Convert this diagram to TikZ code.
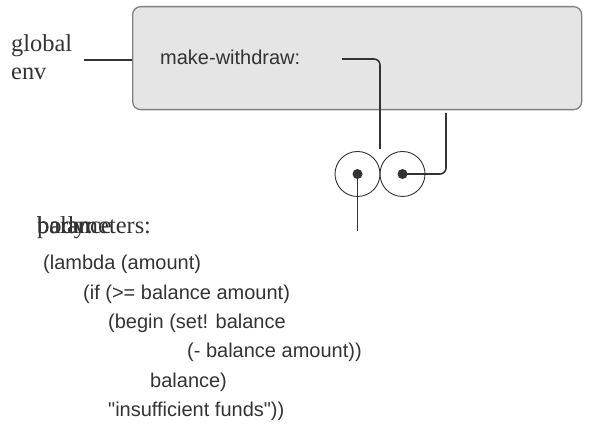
\documentclass[tikz,border=0pt]{standalone}
\usepackage{fontspec}
\setmainfont{Liberation Serif}
\setsansfont{Liberation Sans}[Ligatures=TeXOff]
\begin{document}
\begin{tikzpicture}[x=1pt,y=-1pt]
\definecolor{framegray}{gray}{0.5}
\definecolor{boxfill}{gray}{0.9}
\definecolor{inkgray}{gray}{0.2}
\tikzset{
  code/.style = {anchor = base west, inner sep = 0, text = inkgray, font = \sffamily\fontsize{20}{22}\selectfont},
  envlabel/.style = {anchor = base west, inner sep = 0, text = inkgray, font = \rmfamily\fontsize{24.4}{26}\selectfont},
  pointer/.style = {draw = inkgray, line width = 1.6pt, rounded corners = 6},
  cell/.style = {circle, draw = inkgray, line width = 0.9pt, minimum size = 45, inner sep = 0},
  dot/.style = {circle, fill = inkgray, inner sep = 0, minimum size = 10}
}
\useasboundingbox (0,0) rectangle (599,427);
\node [draw = framegray, fill = boxfill, line width = 1.3pt, rounded corners = 8, minimum width = 449, minimum height = 103, inner sep = 0, anchor = north west] (frame) at (132,6) {};
\node [envlabel] (global) at (11,52) {global};
\node [envlabel] (env) at (11,80) {env};
\node [code] (name) at (160,65) {make-withdraw:};
\node [cell] (left) at (357.5,174) {};
\node [cell] (right) at (402.5,174) {};
\node [dot] (leftdot) at (left.center) {};
\node [dot] (rightdot) at (right.center) {};
\coordinate (globalend) at (84,60);
\coordinate (bindstart) at (342,59);
\coordinate (bindend) at (380,149);
\coordinate (envend) at (446,113);
\coordinate (codeend) at (357.5,231);
\draw [pointer] (globalend) -- (frame.west |- globalend);
\draw [pointer] (bindstart) -| (bindend);
\draw [pointer] (rightdot.center) -| (envend);
\draw [pointer] (leftdot.center) -- (codeend);
\node [envlabel] (params) at (37,234) {parameters:};
\node [envlabel] (balance) at (37,234) {balance};
\node [envlabel] (body) at (37,234) {body:};
\foreach \x/\y/\txt [count = \i] in {43/270/{(lambda (amount)}, 83/299/{(if (>= balance amount)}, 108/328/{(begin (set! balance}, 187/357/{(- balance amount))}, 150/387/{balance)}, 108/416/{"insufficient funds"))}}
  \node [code] (code\i) at (\x,\y) {\txt};
\end{tikzpicture}
\end{document}
